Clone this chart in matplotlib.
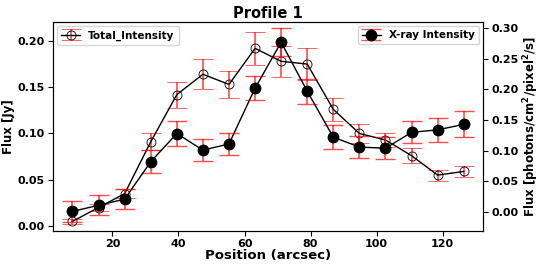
import numpy as np
import matplotlib.pyplot as plt

position = [7.9, 15.8, 23.7, 31.6, 39.5, 47.4, 55.3, 63.2, 71.1, 79.0, 86.9, 94.8, 102.7, 110.6, 118.5, 126.4]
total_flux = [0.005, 0.020, 0.035, 0.091, 0.142, 0.164, 0.153, 0.192, 0.178, 0.175, 0.126, 0.100, 0.093, 0.076, 0.055, 0.059]
total_err = [0.003, 0.004, 0.005, 0.009, 0.014, 0.016, 0.015, 0.018, 0.017, 0.017, 0.012, 0.010, 0.008, 0.008, 0.006, 0.006]
xray_flux = [0.001, 0.011, 0.021, 0.082, 0.128, 0.101, 0.111, 0.202, 0.277, 0.197, 0.122, 0.106, 0.104, 0.130, 0.134, 0.143]
xray_err = [0.017, 0.016, 0.016, 0.019, 0.020, 0.018, 0.018, 0.020, 0.023, 0.020, 0.020, 0.018, 0.018, 0.018, 0.020, 0.021]

plt.rcParams['font.weight'] = 'bold'
plt.rcParams['axes.labelweight'] = 'bold'

fig, ax = plt.subplots(figsize=(5.4, 2.68), dpi=100)
ax.errorbar(position, total_flux, yerr=total_err, color='black', lw=1,
            marker='o', mfc='none', mec='black', mew=0.6, ms=6.5,
            ecolor=(1, 0, 0, 0.7), elinewidth=1.2, capsize=7, label='Total_Intensity')
ax.set_ylim(-0.0054, 0.2205)
ax.set_xlabel('Position (arcsec)', fontsize=9.5, labelpad=0)
ax.set_ylabel('Flux [Jy]', fontsize=8.5, labelpad=2)
ax.tick_params(labelsize=8, pad=2.5)
ax.set_title('Profile 1', fontsize=10.5, fontweight='bold', pad=3)
ax.legend(loc='upper left', fontsize=7.5, handlelength=1.8, borderaxespad=0.4)

ax2 = ax.twinx()
ax2.errorbar(position, xray_flux, yerr=xray_err, color='black', lw=1,
             marker='o', mfc='black', mec='black', ms=7.5,
             ecolor=(1, 0, 0, 0.7), elinewidth=1.2, capsize=7, label='X-ray Intensity')
ax2.set_ylim(-0.031, 0.31)
ax2.set_yticks([0.00, 0.05, 0.10, 0.15, 0.20, 0.25, 0.30])
ax2.set_ylabel('Flux [photons/cm$^2$/pixel$^2$/s]', fontsize=8.5, labelpad=2)
ax2.tick_params(labelsize=8, pad=2.5)
ax2.legend(loc='upper right', fontsize=7.5, handlelength=1.8, borderaxespad=0.4)

fig.subplots_adjust(left=0.098, right=0.895, top=0.918, bottom=0.138)
fig.savefig('out.png')
